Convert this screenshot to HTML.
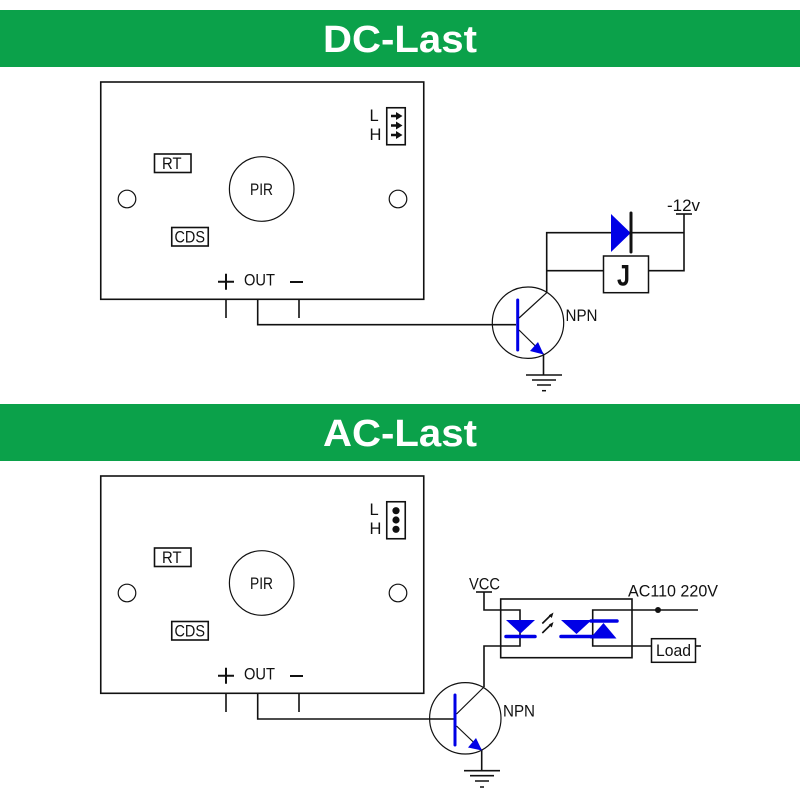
<!DOCTYPE html>
<html><head><meta charset="utf-8"><style>
html,body{margin:0;padding:0;background:#fff}
svg{display:block}
text{font-family:"Liberation Sans",sans-serif;fill:#111}
.t{font-weight:bold;fill:#fff;font-size:38px}
.l{font-size:16.5px}
.w{fill:none;stroke:#111;stroke-width:1.6}
.b{fill:#0000e6;stroke:none}
.bl{stroke:#0000e6;fill:none;stroke-linecap:round}
</style></head><body>
<svg width="800" height="800" viewBox="0 0 800 800" xmlns="http://www.w3.org/2000/svg">
<rect x="0" y="10" width="800" height="57" fill="#0ba14a"/>
<rect x="0" y="404" width="800" height="57" fill="#0ba14a"/>
<text class="t" x="323" y="52" textLength="154" lengthAdjust="spacingAndGlyphs">DC-Last</text>
<text class="t" x="323" y="446" textLength="154" lengthAdjust="spacingAndGlyphs">AC-Last</text>

<!-- Board 1 -->
<g>
<rect class="w" x="100.75" y="82" width="323" height="217.3"/>
<rect class="w" x="154.5" y="154" width="36.5" height="18.5"/>
<text class="l" x="162" y="169" textLength="19.500" lengthAdjust="spacingAndGlyphs">RT</text>
<rect class="w" x="171.75" y="227.5" width="36.5" height="18.5"/>
<text class="l" x="174.500" y="242.500" textLength="30.500" lengthAdjust="spacingAndGlyphs">CDS</text>
<circle cx="261.7" cy="189" r="32.3" fill="none" stroke="#111" stroke-width="1.200"/>
<text class="l" x="250" y="195" textLength="23" lengthAdjust="spacingAndGlyphs">PIR</text>
<circle cx="127" cy="199" r="8.8" fill="none" stroke="#111" stroke-width="1.200"/>
<circle cx="398" cy="199" r="8.8" fill="none" stroke="#111" stroke-width="1.200"/>
<path d="M218 281.7H234M226 273.7V289.7M290 282H303" stroke="#111" stroke-width="2" fill="none"/>
<text class="l" x="244" y="285.700" textLength="31" lengthAdjust="spacingAndGlyphs">OUT</text>
<path class="w" d="M226 299V318M299 299V318M257.7 299V324.7H516"/>
<text class="l" x="369.500" y="121">L</text>
<text class="l" x="369.500" y="140">H</text>
<rect class="w" x="386.750" y="107.750" width="18.500" height="37"/>
<path d="M391 116H397M391 125.500H397M391 135H397" stroke="#111" stroke-width="2.600" fill="none"/>
<path fill="#111" d="M396 112L402.500 116L396 120ZM396 121.500L402.500 125.500L396 129.500ZM396 131L402.500 135L396 139Z"/>
</g>

<!-- Board 2 -->
<g>
<rect class="w" x="100.75" y="476" width="323" height="217.3"/>
<rect class="w" x="154.5" y="548" width="36.5" height="18.5"/>
<text class="l" x="162" y="563" textLength="19.500" lengthAdjust="spacingAndGlyphs">RT</text>
<rect class="w" x="171.75" y="621.5" width="36.5" height="18.5"/>
<text class="l" x="174.500" y="636.500" textLength="30.500" lengthAdjust="spacingAndGlyphs">CDS</text>
<circle cx="261.7" cy="583" r="32.3" fill="none" stroke="#111" stroke-width="1.200"/>
<text class="l" x="250" y="589" textLength="23" lengthAdjust="spacingAndGlyphs">PIR</text>
<circle cx="127" cy="593" r="8.8" fill="none" stroke="#111" stroke-width="1.200"/>
<circle cx="398" cy="593" r="8.8" fill="none" stroke="#111" stroke-width="1.200"/>
<path d="M218 675.7H234M226 667.7V683.7M290 676H303" stroke="#111" stroke-width="2" fill="none"/>
<text class="l" x="244" y="679.700" textLength="31" lengthAdjust="spacingAndGlyphs">OUT</text>
<path class="w" d="M226 693V712M299 693V712M257.7 693V719H453.500"/>
<text class="l" x="369.500" y="515">L</text>
<text class="l" x="369.500" y="534">H</text>
<rect class="w" x="386.750" y="501.750" width="18.500" height="37"/>
<circle cx="396" cy="510.700" r="3.600" fill="#111"/>
<circle cx="396" cy="520" r="3.600" fill="#111"/>
<circle cx="396" cy="529.300" r="3.600" fill="#111"/>
</g>

<!-- DC circuit -->
<circle cx="528" cy="322.700" r="35.700" fill="none" stroke="#111" stroke-width="1.200"/>
<path class="bl" stroke-width="3" d="M517.700 300V350"/>
<path d="M519 318L546.700 292.700" stroke="#111" stroke-width="1.200"/>
<path class="w" d="M546.700 292.700V232.700H684M546.700 270.700H603.500M648.300 270.700H684V214"/>
<path class="w" stroke-width="2" d="M676 214H692"/>
<path d="M519 330L543.500 354" stroke="#111" stroke-width="1.200"/>
<path class="w" d="M543.500 354V375"/>
<path class="b" d="M543.700 354.500L530 351L538 342Z"/>
<path class="w" d="M526 375H562M532 380H556M537 385H551"/>
<path d="M542 390.700H546" stroke="#111" stroke-width="1.500"/>
<path fill="#0000e6" d="M611 214V252L630.700 233Z"/>
<path d="M631 213V252" stroke="#111" stroke-width="3" stroke-linecap="round"/>
<rect x="603.500" y="256" width="45" height="36.700" fill="#fff" stroke="#111" stroke-width="1.500"/>
<text x="617" y="285.500" font-size="30" font-weight="bold" textLength="13" lengthAdjust="spacingAndGlyphs">J</text>
<text class="l" x="667" y="211" textLength="33" lengthAdjust="spacingAndGlyphs">-12v</text>
<text class="l" x="565.500" y="321" textLength="32" lengthAdjust="spacingAndGlyphs">NPN</text>

<!-- AC circuit -->
<circle cx="465.300" cy="718.300" r="35.700" fill="none" stroke="#111" stroke-width="1.200"/>
<path class="bl" stroke-width="3" d="M455 695V745"/>
<path d="M456.500 714L484 687" stroke="#111" stroke-width="1.200"/>
<path class="w" d="M484 687V646H520V610H484V592"/>
<path class="w" stroke-width="2" d="M476 592H492"/>
<path d="M456.500 726L481.700 750" stroke="#111" stroke-width="1.200"/>
<path class="w" d="M481.700 750V770.700"/>
<path class="b" d="M482 750.500L468 747.500L476 738Z"/>
<path class="w" d="M464 770.700H500M470 775.700H494M475 781H489"/>
<path d="M480 787H484" stroke="#111" stroke-width="1.500"/>
<rect class="w" x="500.700" y="599" width="131.300" height="58.700"/>
<path class="w" d="M698 610H592.700V646H651.500"/>
<circle cx="658" cy="610" r="3" fill="#111"/>
<rect x="651.500" y="638.700" width="44" height="23.600" fill="#fff" stroke="#111" stroke-width="1.500"/>
<path class="w" d="M695.500 646H701"/>
<text class="l" x="656" y="656" textLength="35" lengthAdjust="spacingAndGlyphs">Load</text>
<path class="b" d="M506 620H535L520.500 633.500Z"/>
<path class="bl" stroke-width="3.500" d="M506 636.500H535"/>
<path class="w" stroke-width="1.100" d="M542.300 623.500L551.500 614.500M542.300 633L551.500 624"/>
<path fill="#111" d="M553.500 612.500L551.800 618L548.800 615.200ZM553.500 622L551.800 627.500L548.800 624.700Z"/>
<path class="b" d="M561 620H591.700L576.500 634Z"/>
<path class="bl" stroke-width="3.500" d="M591 621H617M561 636.500H592"/>
<path class="b" d="M590 638.500H616.500L603.500 623Z"/>
<text class="l" x="469" y="589.500" textLength="31" lengthAdjust="spacingAndGlyphs">VCC</text>
<text class="l" x="628" y="596.700" textLength="90" lengthAdjust="spacingAndGlyphs">AC110 220V</text>
<text class="l" x="503" y="716.500" textLength="32" lengthAdjust="spacingAndGlyphs">NPN</text>
</svg>
</body></html>
